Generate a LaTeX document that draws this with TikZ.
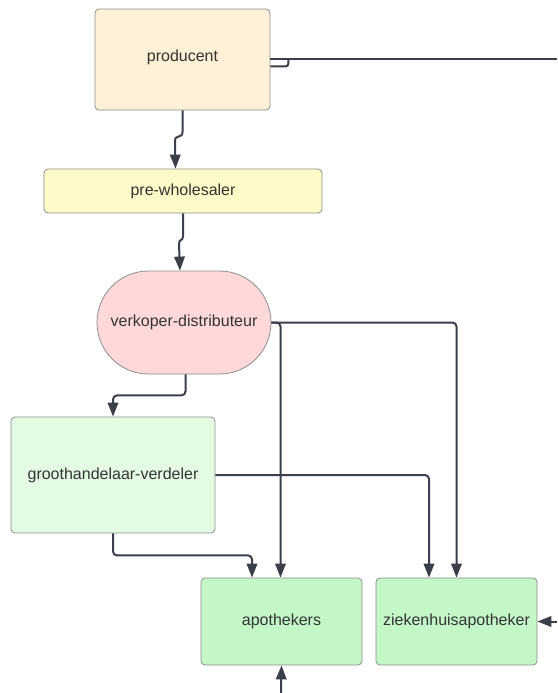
\documentclass[tikz,border=0pt]{standalone}
\usepackage{fontspec}
\setmainfont{Liberation Sans}
\usetikzlibrary{arrows.meta,calc}
\definecolor{linec}{HTML}{3A3F4A}
\definecolor{bordc}{HTML}{8C8C8C}
\definecolor{txtc}{HTML}{333333}
\definecolor{prodc}{HTML}{FEF0D6}
\definecolor{prec}{HTML}{FFFBC9}
\definecolor{verkc}{HTML}{FFD9D9}
\definecolor{grootc}{HTML}{E3FAE3}
\definecolor{apoc}{HTML}{C3F7C8}
\tikzset{
  box/.style={draw=bordc, line width=0.8pt, rounded corners=4pt, inner sep=0pt,
    text=txtc, font=\fontsize{16}{19}\selectfont, anchor=center},
  conn/.style={draw=linec, line width=2pt, rounded corners=4pt,
    -{Triangle[length=14pt,width=10.5pt]}},
  plain/.style={draw=linec, line width=2pt, rounded corners=3pt},
}
\begin{document}
\begin{tikzpicture}[x=1pt,y=-1pt]
\useasboundingbox (0,0) rectangle (557,693);
\node[box, fill=prodc, minimum width=175pt, minimum height=101pt] (prod) at (182.5,59.5) {};
\node[text=txtc, font=\fontsize{16}{19}\selectfont] (prodt) at (182.5,57) {producent};
\node[box, fill=prec, minimum width=278pt, minimum height=44pt] (pre) at (183,191) {pre-wholesaler};
\node[box, fill=verkc, minimum width=174pt, minimum height=103pt, rounded corners=51.5pt] (verk) at (184,322.5) {verkoper-distributeur};
\node[box, fill=grootc, minimum width=204pt, minimum height=116pt] (groot) at (113,475) {groothandelaar-verdeler};
\node[box, fill=apoc, minimum width=161pt, minimum height=87pt] (apo) at (281.5,621.5) {apothekers};
\node[box, fill=apoc, minimum width=161pt, minimum height=87pt] (zhk) at (456.5,621.5) {ziekenhuisapotheker};
\coordinate (rtop) at (557,59);
\coordinate (rmid) at (557,621.5);
\coordinate (bot) at (281,693);
% producent right line with hook
\draw[plain] ([yshift=0.5pt]prod.east) -- (rtop);
\draw[plain] ([yshift=-7pt]prod.east) -- ++(18,0) -- ++(0,-7.5);
% main chain
\draw[conn, rounded corners=0pt] (prod.south) -- (182.5,132)
  .. controls (182.5,139) and (175,134) .. (175,141) -- ([xshift=-7.5pt]pre.north);
\draw[conn, rounded corners=0pt] (pre.south) -- (183,236)
  .. controls (183,242) and (179,238) .. (179,244) -- ([xshift=-4pt]verk.north);
\draw[conn] ([xshift=1.5pt]verk.south) -- ++(0,21) -| (groot.north);
\draw[conn] (groot.south) -- ++(0,22) -| ([xshift=-29.5pt]apo.north);
\draw[conn] (verk.east) -| ([xshift=-1pt]apo.north);
\draw[conn] (verk.east) -| (zhk.north);
\draw[conn] (groot.east) -| ([xshift=-27.5pt]zhk.north);
\draw[conn] (rmid) -- (zhk.east);
\draw[conn] (bot) -- (apo.south);
\end{tikzpicture}
\end{document}
